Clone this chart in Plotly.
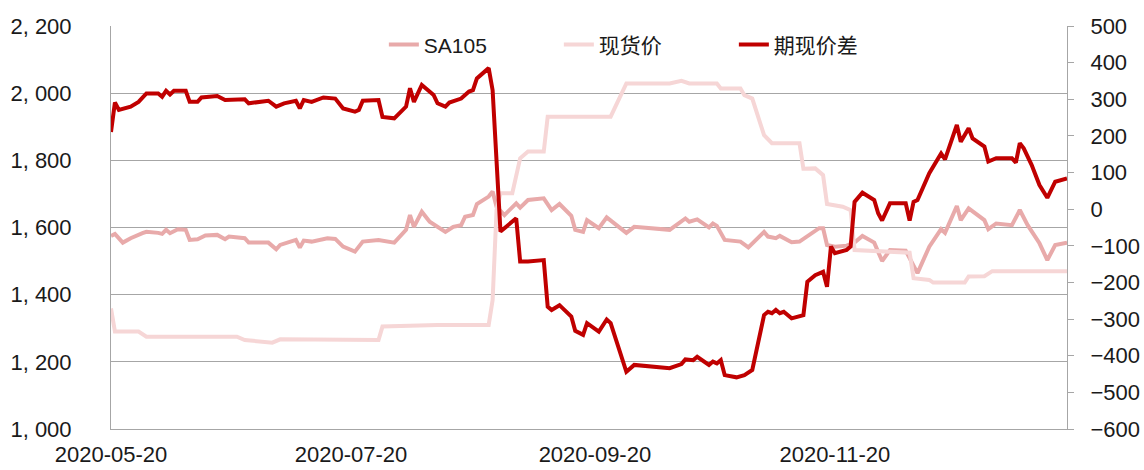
import plotly.graph_objects as go

# 期现价差 (right axis)
spread_dates = [
    "2020-05-20", "2020-05-21", "2020-05-22", "2020-05-25", "2020-05-27", "2020-05-29", "2020-06-01", "2020-06-02", "2020-06-03", "2020-06-04",
    "2020-06-05", "2020-06-08", "2020-06-09", "2020-06-11", "2020-06-12", "2020-06-16", "2020-06-18", "2020-06-23", "2020-06-24", "2020-06-29",
    "2020-07-01", "2020-07-03", "2020-07-06", "2020-07-07", "2020-07-08", "2020-07-10", "2020-07-13", "2020-07-16", "2020-07-18", "2020-07-21",
    "2020-07-22", "2020-07-23", "2020-07-27", "2020-07-28", "2020-07-31", "2020-08-03", "2020-08-04", "2020-08-05", "2020-08-07", "2020-08-10",
    "2020-08-11", "2020-08-13", "2020-08-14", "2020-08-17", "2020-08-19", "2020-08-20", "2020-08-21", "2020-08-24", "2020-08-25", "2020-08-26",
    "2020-08-27", "2020-08-31", "2020-09-01", "2020-09-03", "2020-09-07", "2020-09-08", "2020-09-09", "2020-09-11", "2020-09-14", "2020-09-15",
    "2020-09-17", "2020-09-18", "2020-09-21", "2020-09-23", "2020-09-24", "2020-09-28", "2020-09-30", "2020-10-09", "2020-10-12", "2020-10-13",
    "2020-10-15", "2020-10-16", "2020-10-19", "2020-10-20", "2020-10-21", "2020-10-22", "2020-10-23", "2020-10-26", "2020-10-28", "2020-10-30",
    "2020-11-02", "2020-11-03", "2020-11-04", "2020-11-05", "2020-11-06", "2020-11-07", "2020-11-09", "2020-11-12", "2020-11-13", "2020-11-15",
    "2020-11-17", "2020-11-18", "2020-11-19", "2020-11-20", "2020-11-23", "2020-11-24", "2020-11-25", "2020-11-27", "2020-11-30", "2020-12-01",
    "2020-12-02", "2020-12-04", "2020-12-08", "2020-12-09", "2020-12-10", "2020-12-11", "2020-12-14", "2020-12-17", "2020-12-18", "2020-12-21",
    "2020-12-22", "2020-12-24", "2020-12-25", "2020-12-28", "2020-12-29", "2020-12-31", "2021-01-04", "2021-01-05", "2021-01-06", "2021-01-07",
    "2021-01-09", "2021-01-11", "2021-01-13", "2021-01-15", "2021-01-18",
]
spread = [
    211, 291, 271, 280, 293, 316, 316, 307, 323, 313,
    323, 323, 293, 293, 305, 309, 298, 300, 289, 296,
    280, 289, 296, 275, 298, 293, 305, 302, 275, 266,
    271, 296, 298, 252, 248, 280, 330, 293, 339, 312,
    289, 280, 291, 302, 321, 325, 357, 385, 325, 134,
    -61, -25, -143, -143, -139, -266, -275, -262, -293, -332,
    -343, -311, -334, -301, -311, -444, -425, -434, -423, -410,
    -412, -403, -425, -416, -421, -412, -453, -459, -453, -439,
    -289, -280, -284, -275, -284, -280, -298, -289, -198, -180,
    -171, -212, -102, -120, -111, -102, 20, 45, 25, -11,
    -31, 16, 16, -31, 20, 25, 98, 152, 136, 230,
    184, 221, 193, 171, 130, 139, 139, 127, 180, 166,
    121, 66, 31, 75, 84,
]

# SA105 (left axis)
sa105_dates = [
    "2020-05-20", "2020-05-21", "2020-05-23", "2020-05-25", "2020-05-28", "2020-05-29", "2020-06-01", "2020-06-02", "2020-06-03", "2020-06-04",
    "2020-06-06", "2020-06-08", "2020-06-09", "2020-06-11", "2020-06-13", "2020-06-16", "2020-06-18", "2020-06-19", "2020-06-23", "2020-06-24",
    "2020-06-29", "2020-07-01", "2020-07-02", "2020-07-06", "2020-07-07", "2020-07-08", "2020-07-10", "2020-07-14", "2020-07-16", "2020-07-18",
    "2020-07-21", "2020-07-23", "2020-07-27", "2020-07-31", "2020-08-03", "2020-08-04", "2020-08-05", "2020-08-07", "2020-08-09", "2020-08-13",
    "2020-08-15", "2020-08-17", "2020-08-18", "2020-08-20", "2020-08-21", "2020-08-24", "2020-08-25", "2020-08-26", "2020-08-28", "2020-08-31",
    "2020-09-01", "2020-09-03", "2020-09-07", "2020-09-09", "2020-09-11", "2020-09-14", "2020-09-15", "2020-09-17", "2020-09-18", "2020-09-21",
    "2020-09-23", "2020-09-28", "2020-09-30", "2020-10-09", "2020-10-13", "2020-10-14", "2020-10-16", "2020-10-19", "2020-10-20", "2020-10-21",
    "2020-10-23", "2020-10-27", "2020-10-29", "2020-11-02", "2020-11-03", "2020-11-05", "2020-11-06", "2020-11-09", "2020-11-11", "2020-11-16",
    "2020-11-17", "2020-11-18", "2020-11-20", "2020-11-23", "2020-11-25", "2020-11-27", "2020-11-30", "2020-12-02", "2020-12-04", "2020-12-08",
    "2020-12-11", "2020-12-14", "2020-12-17", "2020-12-18", "2020-12-21", "2020-12-22", "2020-12-24", "2020-12-28", "2020-12-29", "2020-12-31",
    "2021-01-04", "2021-01-06", "2021-01-08", "2021-01-11", "2021-01-13", "2021-01-15", "2021-01-18",
]
sa105 = [
    1575, 1581, 1555, 1568, 1583, 1587, 1584, 1581, 1593, 1583,
    1595, 1593, 1563, 1565, 1576, 1578, 1565, 1573, 1568, 1555,
    1555, 1535, 1548, 1563, 1540, 1561, 1558, 1568, 1566, 1543,
    1528, 1558, 1563, 1555, 1593, 1637, 1602, 1647, 1617, 1587,
    1602, 1607, 1632, 1637, 1670, 1692, 1707, 1662, 1637, 1672,
    1659, 1682, 1687, 1652, 1670, 1635, 1593, 1587, 1622, 1598,
    1630, 1584, 1602, 1593, 1627, 1617, 1624, 1600, 1612, 1605,
    1563, 1558, 1541, 1587, 1573, 1568, 1575, 1556, 1558, 1598,
    1598, 1548, 1543, 1546, 1555, 1575, 1555, 1500, 1533, 1531,
    1464, 1543, 1595, 1584, 1664, 1622, 1657, 1622, 1595, 1612,
    1607, 1652, 1607, 1553, 1503, 1548, 1555,
]

# 现货价 (left axis)
spot_dates = [
    "2020-05-20", "2020-05-21", "2020-05-27", "2020-05-29", "2020-06-21", "2020-06-23", "2020-06-30", "2020-07-02", "2020-07-27", "2020-07-28",
    "2020-08-11", "2020-08-24", "2020-08-25", "2020-08-26", "2020-08-27", "2020-08-30", "2020-09-01", "2020-09-03", "2020-09-07", "2020-09-08",
    "2020-09-24", "2020-09-28", "2020-10-09", "2020-10-12", "2020-10-14", "2020-10-21", "2020-10-22", "2020-10-27", "2020-10-28", "2020-10-30",
    "2020-11-02", "2020-11-04", "2020-11-11", "2020-11-12", "2020-11-15", "2020-11-17", "2020-11-18", "2020-11-22", "2020-11-24", "2020-11-25",
    "2020-12-09", "2020-12-10", "2020-12-14", "2020-12-15", "2020-12-23", "2020-12-24", "2020-12-28", "2020-12-30", "2021-01-18",
]
spot = [
    1359, 1290, 1290, 1275, 1275, 1265, 1257, 1267, 1265, 1305,
    1310, 1310, 1384, 1652, 1702, 1702, 1806, 1826, 1826, 1930,
    1930, 2029, 2029, 2037, 2029, 2029, 2014, 2014, 1994, 1984,
    1875, 1851, 1851, 1775, 1776, 1756, 1670, 1662, 1652, 1533,
    1525, 1449, 1444, 1436, 1436, 1454, 1455, 1470, 1470,
]

x_tick_vals = ["2020-05-20", "2020-07-20", "2020-09-20", "2020-11-20"]
x_tick_text = ["2020-05-20", "2020-07-20", "2020-09-20", "2020-11-20"]
y_tick_vals = [1000, 1200, 1400, 1600, 1800, 2000, 2200]
y_tick_text = ["1, 000", "1, 200", "1, 400", "1, 600", "1, 800", "2, 000", "2, 200"]

fig = go.Figure()

fig.add_trace(go.Scatter(
    x=sa105_dates, y=sa105, name='SA105', mode='lines',
    line=dict(color='#E8AAAA', width=4)
))
fig.add_trace(go.Scatter(
    x=spot_dates, y=spot, name='现货价', mode='lines',
    line=dict(color='#F6D6D6', width=4)
))
fig.add_trace(go.Scatter(
    x=spread_dates, y=spread, name='期现价差', mode='lines',
    line=dict(color='#C00000', width=4), yaxis='y2'
))

axis_grey = '#A6A6A6'
fig.update_layout(
    width=1144,
    height=470,
    margin=dict(l=111, r=77, t=26, b=41),
    plot_bgcolor='white',
    paper_bgcolor='white',
    font=dict(family='Liberation Sans, Arial, Noto Sans CJK SC', size=22, color='#1a1a1a'),
    showlegend=True,
    legend=dict(
        orientation='h', x=0.56, xanchor='center', y=0.953, yanchor='middle',
        font=dict(size=21), bgcolor='rgba(0,0,0,0)',
        entrywidth=130, entrywidthmode='pixels'
    ),
    xaxis=dict(
        type='date', range=['2020-05-20', '2021-01-18'],
        tickvals=x_tick_vals, ticktext=x_tick_text,
        showgrid=False, showline=True, linecolor=axis_grey, linewidth=1,
        ticks='', ticklabelstandoff=6, automargin=False
    ),
    yaxis=dict(
        range=[1000, 2200], tickvals=y_tick_vals, ticktext=y_tick_text,
        showgrid=True, gridcolor=axis_grey, gridwidth=1,
        showline=True, linecolor=axis_grey, linewidth=1,
        ticks='', zeroline=False, ticklabelstandoff=34, automargin=False
    ),
    yaxis2=dict(
        overlaying='y', side='right', range=[-600, 500], dtick=100,
        showgrid=False, showline=True, linecolor=axis_grey, linewidth=1,
        ticks='outside', ticklen=6, tickcolor=axis_grey,
        zeroline=False, ticklabelstandoff=12, automargin=False
    ),
)

fig.write_html(
    "out.html",
    config={'displayModeBar': False},
    post_script="document.body.style.margin='0';"
)
